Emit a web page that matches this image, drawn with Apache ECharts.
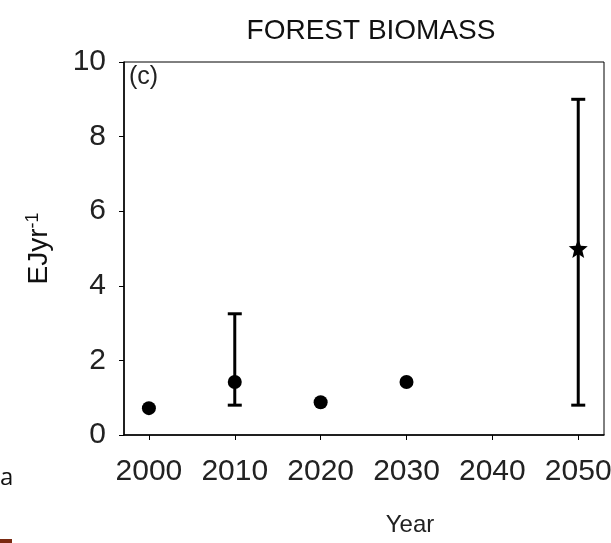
<!DOCTYPE html>
<html>
<head>
<meta charset="utf-8">
<script src="https://cdn.jsdelivr.net/npm/echarts@6/dist/echarts.min.js"></script>
<style>
html,body{margin:0;padding:0;background:#fff;}
#main{width:611px;height:543px;}
</style>
</head>
<body>
<div id="main"></div>
<script>
var years = [2000, 2010, 2020, 2030, 2050];
var values = [0.72, 1.42, 0.88, 1.42, 5.0];
var errYears = [2010, 2050];
var errLow = [0.8, 0.8];
var errHigh = [3.25, 9.0];
var xTicks = [2000, 2010, 2020, 2030, 2040, 2050];
var starYears = [2050];

var FONT = '"Liberation Sans", Arial, sans-serif';
var starPath = 'path://M50,0 L63,33 L98,35 L71,58 L80,93 L50,74 L20,93 L29,58 L2,35 L37,33 Z';

var pointData = years.map(function (y, i) {
  var d = { value: [y, values[i]] };
  if (starYears.indexOf(y) >= 0) { d.symbol = starPath; d.symbolSize = 19; }
  return d;
});
var errData = errYears.map(function (y, i) { return [y, errLow[i], errHigh[i]]; });

var chart = echarts.init(document.getElementById('main'), null, { renderer: 'canvas' });
chart.setOption({
  animation: false,
  backgroundColor: '#fff',
  title: {
    text: 'FOREST BIOMASS',
    left: 366, top: 12, textAlign: 'center',
    textStyle: { fontFamily: FONT, fontSize: 28, fontWeight: 'normal', color: '#111' }
  },
  grid: { left: 124, right: 7, top: 62, bottom: 108, show: true, borderColor: '#000', borderWidth: 1,
    backgroundColor: 'transparent', containLabel: false, outerBoundsMode: 'none' },
  xAxis: {
    type: 'value', min: 1997.1, max: 2053,
    name: 'Year', nameLocation: 'middle', nameGap: 78,
    nameTextStyle: { fontFamily: FONT, fontSize: 24, color: '#222', padding: [0, 0, 0, 92] },
    axisLine: { show: true, lineStyle: { color: '#000', width: 1.5 } },
    axisTick: { show: true, inside: false, length: 5, customValues: xTicks, lineStyle: { color: '#000' } },
    axisLabel: { customValues: xTicks, margin: 22, fontFamily: FONT, fontSize: 30, color: '#222',
      formatter: function (v) { return String(v); } },
    splitLine: { show: false }
  },
  yAxis: {
    type: 'value', min: 0, max: 10, interval: 2,
    name: 'EJyr{sup|-1}', nameLocation: 'middle', nameGap: 70, nameRotate: 90,
    nameTextStyle: { fontFamily: FONT, fontSize: 28, color: '#111',
      rich: { sup: { fontFamily: FONT, fontSize: 18, color: '#111', verticalAlign: 'top', padding: [0, 0, 12, 0] } } },
    axisLine: { show: true, lineStyle: { color: '#000', width: 1.5 } },
    axisTick: { show: true, inside: false, length: 5, lineStyle: { color: '#000' } },
    axisLabel: { margin: 18, fontFamily: FONT, fontSize: 30, color: '#222' },
    splitLine: { show: false }
  },
  graphic: [
    { type: 'text', left: 129, top: 65, style: { text: '(c)', font: '25px ' + FONT, fill: '#222' } },
    { type: 'text', left: 0, top: 466, style: { text: 'a', font: '24px "Open Sans", sans-serif', fill: '#111' } },
    { type: 'rect', shape: { x: 0, y: 539, width: 12, height: 4 }, style: { fill: '#7a2a12' } }
  ],
  series: [
    {
      type: 'custom',
      data: errData,
      renderItem: function (params, api) {
        var x = api.value(0);
        var lo = api.coord([x, api.value(1)]);
        var hi = api.coord([x, api.value(2)]);
        var hw = 7;
        var st = { stroke: '#000', lineWidth: 3 };
        return {
          type: 'group',
          children: [
            { type: 'line', shape: { x1: lo[0], y1: lo[1], x2: hi[0], y2: hi[1] }, style: st },
            { type: 'line', shape: { x1: lo[0] - hw, y1: lo[1], x2: lo[0] + hw, y2: lo[1] }, style: st },
            { type: 'line', shape: { x1: hi[0] - hw, y1: hi[1], x2: hi[0] + hw, y2: hi[1] }, style: st }
          ]
        };
      },
      z: 2
    },
    {
      type: 'scatter',
      data: pointData,
      symbol: 'circle',
      symbolSize: 14,
      itemStyle: { color: '#000', opacity: 1 },
      z: 3
    }
  ]
});
</script>
</body>
</html>
